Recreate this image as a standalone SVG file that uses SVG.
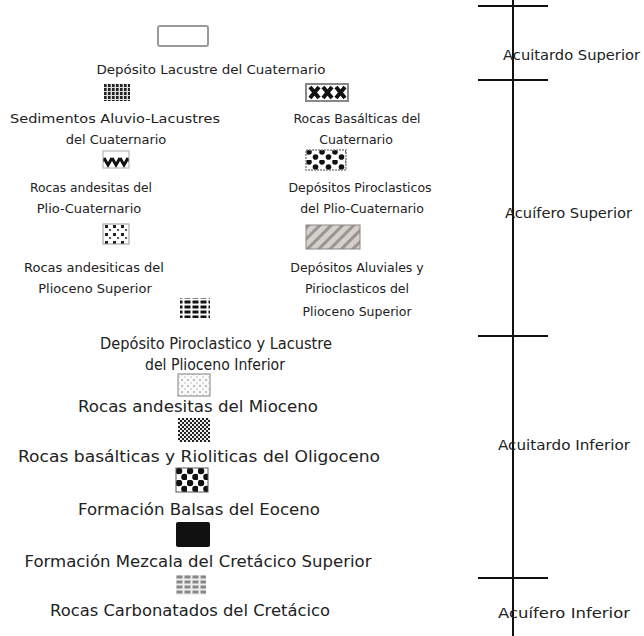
<svg xmlns="http://www.w3.org/2000/svg" width="644" height="636" viewBox="0 0 644 636">
<style>
text{font-family:"DejaVu Sans","Liberation Sans",sans-serif;font-size:13px;fill:#222;text-anchor:middle}
.r{font-size:12.5px}
.big{font-size:15px}
.lbl{text-anchor:start;font-size:14px}
.axis{stroke:#111;stroke-width:2;fill:none}
</style>
<defs>
<pattern id="pSed" width="4" height="4" patternUnits="userSpaceOnUse"><rect width="4" height="4" fill="#ddd"/><rect width="2.6" height="3" fill="#222"/></pattern>
<pattern id="pWave" width="8" height="17" patternUnits="userSpaceOnUse"><path d="M0,5 L4,12 L8,5" stroke="#111" stroke-width="3" fill="none"/></pattern>
<pattern id="pPiro" width="13" height="10" patternUnits="userSpaceOnUse" x="306" y="150"><rect width="13" height="10" fill="#fff"/><circle cx="3" cy="2" r="2.8" fill="#111"/><circle cx="9.5" cy="7" r="2.8" fill="#111"/></pattern>
<pattern id="pAnd" width="8" height="8" patternUnits="userSpaceOnUse"><rect width="8" height="8" fill="#fff"/><rect x="1" y="1" width="3" height="3" fill="#222"/><rect x="5" y="5" width="2" height="2" fill="#555"/></pattern>
<pattern id="pDiag" width="8" height="8" patternUnits="userSpaceOnUse" patternTransform="rotate(45)"><rect width="8" height="8" fill="#d4d0cc"/><rect width="3" height="8" fill="#9a9590"/></pattern>
<pattern id="pBrick" width="8" height="5" patternUnits="userSpaceOnUse"><rect width="8" height="5" fill="#fff"/><rect x="0.5" y="0.5" width="6" height="3" fill="#111"/></pattern>
<pattern id="pLight" width="6" height="6" patternUnits="userSpaceOnUse"><rect width="6" height="6" fill="#fafafa"/><circle cx="2" cy="2" r="1" fill="#aaa"/><circle cx="5" cy="5" r="0.8" fill="#bbb"/></pattern>
<pattern id="pCheck" width="4" height="4" patternUnits="userSpaceOnUse"><rect width="4" height="4" fill="#eee"/><rect width="2" height="2" fill="#222"/><rect x="2" y="2" width="2" height="2" fill="#222"/></pattern>
<pattern id="pCirc" width="11" height="12" patternUnits="userSpaceOnUse" x="176" y="468"><rect width="11" height="12" fill="#fff"/><circle cx="3" cy="3" r="3.3" fill="#111"/><circle cx="8.5" cy="9" r="3.3" fill="#111"/></pattern>
<pattern id="pCarb" width="8" height="5" patternUnits="userSpaceOnUse"><rect width="8" height="5" fill="#eee"/><rect x="0.5" y="0.5" width="6" height="3" fill="#888"/></pattern>
</defs>

<g id="axis">
<line class="axis" x1="513" y1="0" x2="513" y2="636"/>
<line class="axis" x1="478" y1="6" x2="548" y2="6"/>
<line class="axis" x1="478" y1="80" x2="548" y2="80"/>
<line class="axis" x1="478" y1="336" x2="548" y2="336"/>
<line class="axis" x1="478" y1="578" x2="548" y2="578"/>
<text class="lbl" x="503" y="60" textLength="137" lengthAdjust="spacingAndGlyphs">Acuitardo Superior</text>
<text class="lbl" x="505" y="218" textLength="127" lengthAdjust="spacingAndGlyphs">Acuífero Superior</text>
<text class="lbl" x="498" y="450" textLength="132" lengthAdjust="spacingAndGlyphs">Acuitardo Inferior</text>
<text class="lbl" x="498" y="618" textLength="132" lengthAdjust="spacingAndGlyphs">Acuífero Inferior</text>
</g>

<g id="n1"><rect x="158" y="26" width="50" height="20" rx="2" fill="#fff" stroke="#999" stroke-width="2"/><text x="211" y="74" textLength="229" lengthAdjust="spacingAndGlyphs">Depósito Lacustre del Cuaternario</text></g>
<g id="n2"><rect x="104" y="84" width="26" height="17" fill="url(#pSed)"/><text x="115" y="123" textLength="210" lengthAdjust="spacingAndGlyphs">Sedimentos Aluvio-Lacustres</text><text x="116" y="144">del Cuaternario</text></g>
<g id="n3"><rect x="306" y="84" width="42" height="17" fill="#fff" stroke="#888" stroke-width="2"/><path d="M310,87 l9,11 M319,87 l-9,11 M323,87 l9,11 M332,87 l-9,11 M336,87 l9,11 M345,87 l-9,11" stroke="#111" stroke-width="4"/><text class="r" x="357" y="123">Rocas Basálticas del</text><text class="r" x="356" y="144">Cuaternario</text></g>
<g id="n4"><rect x="103" y="151" width="26" height="17" fill="url(#pWave)" stroke="#aaa" stroke-width="1"/><text x="91" y="192" textLength="122" lengthAdjust="spacingAndGlyphs">Rocas andesitas del</text><text x="89" y="213">Plio-Cuaternario</text></g>
<g id="n5"><rect x="306" y="150" width="40" height="20" fill="url(#pPiro)" stroke="#888" stroke-width="1.5" stroke-dasharray="2 1"/><text class="r" x="360" y="192">Depósitos Piroclasticos</text><text class="r" x="362" y="213">del Plio-Cuaternario</text></g>
<g id="n6"><rect x="103" y="224" width="26" height="20" fill="url(#pAnd)" stroke="#999" stroke-width="1"/><text x="94" y="272">Rocas andesiticas del</text><text x="95" y="293">Plioceno Superior</text></g>
<g id="n7"><rect x="306" y="225" width="54" height="24" fill="url(#pDiag)" stroke="#888" stroke-width="1"/><text class="r" x="357" y="272">Depósitos Aluviales y</text><text class="r" x="357" y="293">Pirioclasticos del</text><text class="r" x="357" y="316">Plioceno Superior</text></g>
<g id="n8"><rect x="180" y="298" width="30" height="20" fill="url(#pBrick)"/><text class="big" x="216" y="349" textLength="232" lengthAdjust="spacingAndGlyphs">Depósito Piroclastico y Lacustre</text><text class="big" x="215" y="370" textLength="140" lengthAdjust="spacingAndGlyphs">del Plioceno Inferior</text></g>
<g id="n9"><rect x="178" y="374" width="32" height="22" fill="url(#pLight)" stroke="#aaa" stroke-width="1.5"/><text class="big" x="198" y="412" textLength="240" lengthAdjust="spacingAndGlyphs">Rocas andesitas del Mioceno</text></g>
<g id="n10"><rect x="178" y="418" width="32" height="24" fill="url(#pCheck)"/><text class="big" x="199" y="462" textLength="362" lengthAdjust="spacingAndGlyphs">Rocas basálticas y Rioliticas del Oligoceno</text></g>
<g id="n11"><rect x="176" y="468" width="32" height="24" fill="url(#pCirc)" stroke="#555" stroke-width="1"/><text class="big" x="199" y="515" textLength="242" lengthAdjust="spacingAndGlyphs">Formación Balsas del Eoceno</text></g>
<g id="n12"><rect x="176" y="522" width="34" height="25" rx="2" fill="#111"/><text class="big" x="198" y="567" textLength="347" lengthAdjust="spacingAndGlyphs">Formación Mezcala del Cretácico Superior</text></g>
<g id="n13"><rect x="176" y="575" width="30" height="20" fill="url(#pCarb)"/><text class="big" x="190" y="616" textLength="280" lengthAdjust="spacingAndGlyphs">Rocas Carbonatados del Cretácico</text></g>
</svg>
